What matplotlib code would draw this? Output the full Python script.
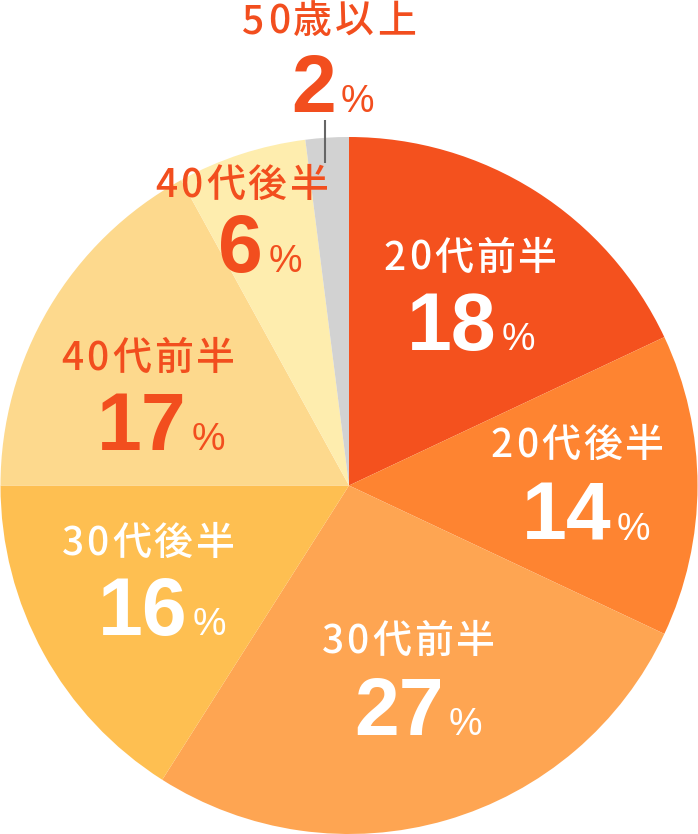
import matplotlib
matplotlib.use("Agg")
import matplotlib.pyplot as plt

# --- data ---
categories = ["20代前半", "20代後半", "30代前半", "30代後半", "40代前半", "40代後半", "50歳以上"]
shares = [18, 14, 27, 16, 17, 6, 2]
colors = ["#F4511E", "#FE8431", "#FEA552", "#FEBF51", "#FDD98D", "#FEEDAE", "#D2D2D2"]
text_colors = ["white", "white", "white", "white", "#F24E1E", "#F24E1E", "#F24E1E"]

# label anchors in pixels: (label centre x, label baseline y, number centre x, number baseline y)
label_pos = [
    (470, 270, 471, 350),
    (577, 457, 586, 540),
    (408, 653, 418, 735),
    (148, 555, 162, 635),
    (148, 370, 161, 450),
    (242, 197, 260, 272),
    (329, 33, 333, 112),
]

W, H = 698, 834
CX, CY, R = 349, 485.5, 348.5

fig = plt.figure(figsize=(W / 100, H / 100), dpi=100)
ax = fig.add_axes([0, 0, 1, 1])

# y axis inverted -> start at 270 and go counterclock in data = clockwise from top on screen
ax.pie(shares, colors=colors, startangle=270, counterclock=True,
       center=(CX, CY), radius=R, wedgeprops=dict(linewidth=0))
ax.set_xlim(0, W)
ax.set_ylim(H, 0)
ax.set_aspect("equal")
ax.axis("off")

renderer = fig.canvas.get_renderer()

LABEL_FONT = dict(family=["Noto Sans CJK JP", "DejaVu Sans"], fontsize=28, fontweight="medium")
NUM_FONT = dict(family=["Liberation Sans"], fontsize=58, fontweight="bold")
PCT_FONT = dict(family=["Liberation Sans"], fontsize=27)


def text_width(s, font):
    t = ax.text(0, 0, s, **font)
    w = t.get_window_extent(renderer).width
    t.remove()
    return w


def draw_spaced(s, cx, base, color, font, track):
    widths = [text_width(ch, font) for ch in s]
    total = sum(widths) + track * (len(s) - 1)
    x = cx - total / 2
    for ch, w in zip(s, widths):
        ax.text(x, base, ch, color=color, ha="left", va="baseline", **font)
        x += w + track


def draw_number(value, cx, base, color):
    num = str(value)
    wn = text_width(num, NUM_FONT)
    wp = text_width("%", PCT_FONT)
    gap = 5
    x = cx - (wn + gap + wp) / 2
    ax.text(x, base, num, color=color, ha="left", va="baseline", **NUM_FONT)
    ax.text(x + wn + gap, base, "%", color=color, ha="left", va="baseline", **PCT_FONT)


for cat, val, col, (lx, ly, nx, ny) in zip(categories, shares, text_colors, label_pos):
    draw_spaced(cat, lx, ly, col, LABEL_FONT, 3)
    draw_number(val, nx, ny, col)

# leader line for the small slice
ax.plot([325, 325], [120, 163], color="#666666", linewidth=1.5, solid_capstyle="butt")

fig.savefig("out.png", dpi=100)
